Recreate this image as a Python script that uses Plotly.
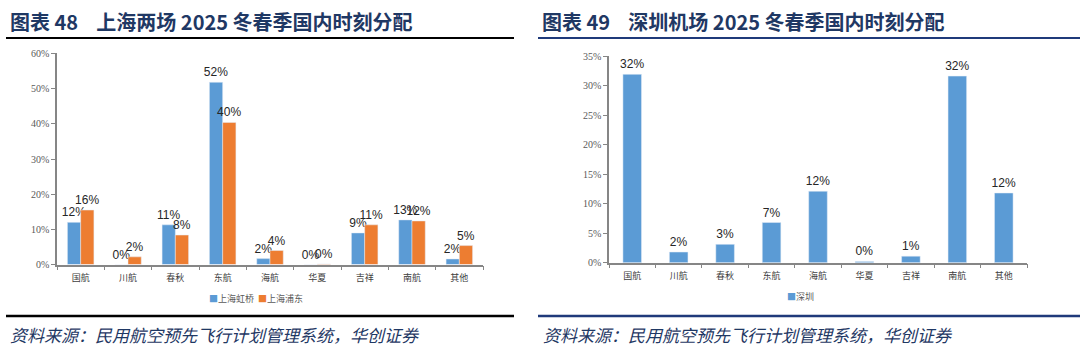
import plotly.graph_objects as go

categories = ["国航", "川航", "春秋", "东航", "海航", "华夏", "吉祥", "南航", "其他"]
hongqiao = [12.0, 0.0, 11.3, 51.8, 1.7, 0.0, 9.0, 12.7, 1.6]
pudong = [15.5, 2.2, 8.4, 40.4, 4.0, 0.2, 11.3, 12.4, 5.4]
shenzhen = [31.9, 1.8, 3.1, 6.8, 12.1, 0.2, 1.1, 31.6, 11.8]

left_series = ["上海虹桥", "上海浦东"]
right_series = ["深圳"]
left_title = "图表 48    上海两场 2025 冬春季国内时刻分配"
right_title = "图表 49    深圳机场 2025 冬春季国内时刻分配"
source_text = "资料来源：民用航空预先飞行计划管理系统，华创证券"

W, H = 1080, 351
BLUE = "#5B9BD5"
ORANGE = "#ED7D31"
NAVY = "#1F3864"
AXIS = "#868686"

def px(x):
    return x / W

def py(y):
    return (H - y) / H

label_font = dict(family="Liberation Sans, Arial, sans-serif", size=12, color="#262626")

fig = go.Figure()
fig.add_trace(go.Bar(x=categories, y=hongqiao, name=left_series[0], marker_color=BLUE,
                     texttemplate="%{y:.0f}%", textposition="outside", textfont=label_font,
                     constraintext="none", cliponaxis=False, xaxis="x", yaxis="y"))
fig.add_trace(go.Bar(x=categories, y=pudong, name=left_series[1], marker_color=ORANGE,
                     texttemplate="%{y:.0f}%", textposition="outside", textfont=label_font,
                     constraintext="none", cliponaxis=False, xaxis="x", yaxis="y"))
fig.add_trace(go.Bar(x=categories, y=shenzhen, name=right_series[0], marker_color=BLUE,
                     width=0.4, offset=-0.2,
                     texttemplate="%{y:.0f}%", textposition="outside", textfont=label_font,
                     constraintext="none", cliponaxis=False, xaxis="x2", yaxis="y2"))

tickfont_y = dict(family="Liberation Serif, Times New Roman, serif", size=10, color="#595959")
tickfont_x = dict(family="Noto Sans CJK SC, sans-serif", size=9, color="#404040")

common_x = dict(type="category", showline=True, linecolor=AXIS, linewidth=1.5,
                ticks="outside", tickson="boundaries", ticklen=4, tickcolor=AXIS,
                tickfont=tickfont_x, showgrid=False, fixedrange=True, ticklabelstandoff=4)
common_y = dict(showline=True, linecolor=AXIS, linewidth=1.5, ticks="outside", ticklen=4,
                tickcolor=AXIS, tickfont=tickfont_y, showgrid=False, zeroline=False,
                ticksuffix="%", fixedrange=True)

fig.update_layout(
    width=W, height=H,
    margin=dict(l=0, r=0, t=0, b=0),
    paper_bgcolor="white", plot_bgcolor="white",
    barmode="group", bargap=0.44, bargroupgap=0.0,
    xaxis=dict(domain=[px(57), px(483)], anchor="y", **common_x),
    yaxis=dict(domain=[py(268), py(50)], anchor="x", range=[0, 60], dtick=10, **common_y),
    xaxis2=dict(domain=[px(609), px(1027)], anchor="y2", **common_x),
    yaxis2=dict(domain=[py(266), py(52.7)], anchor="x2", range=[0, 35], dtick=5, **common_y),
    showlegend=False,
)

title_font = dict(family="Noto Sans CJK SC, sans-serif", size=20, color=NAVY, weight="bold")
src_font = dict(family="Noto Sans CJK SC, sans-serif", size=17, color=NAVY, style="italic")
legend_font = dict(family="Noto Sans CJK SC, sans-serif", size=9, color="#595959")

fig.add_annotation(text=left_title, x=px(8), y=py(17), xref="paper", yref="paper",
                   xanchor="left", yanchor="middle", showarrow=False, font=title_font)
fig.add_annotation(text=right_title, x=px(540), y=py(17), xref="paper", yref="paper",
                   xanchor="left", yanchor="middle", showarrow=False, font=title_font)
fig.add_annotation(text=source_text, x=px(8), y=py(340), xref="paper", yref="paper",
                   xanchor="left", yanchor="middle", showarrow=False, font=src_font)
fig.add_annotation(text=source_text, x=px(541), y=py(340), xref="paper", yref="paper",
                   xanchor="left", yanchor="middle", showarrow=False, font=src_font)

# compact legends (Excel style)
left_legend = (f"<span style='color:{BLUE}'>■</span>{left_series[0]}  "
               f"<span style='color:{ORANGE}'>■</span>{left_series[1]}")
right_legend = f"<span style='color:{BLUE}'>■</span>{right_series[0]}"
fig.add_annotation(text=left_legend, x=px(256), y=py(303), xref="paper", yref="paper",
                   xanchor="center", yanchor="middle", showarrow=False, font=legend_font)
fig.add_annotation(text=right_legend, x=px(800), y=py(301), xref="paper", yref="paper",
                   xanchor="center", yanchor="middle", showarrow=False, font=legend_font)

fig.add_shape(type="line", xref="paper", yref="paper", x0=px(6), x1=px(514), y0=py(34), y1=py(34),
              line=dict(color="black", width=2))
fig.add_shape(type="line", xref="paper", yref="paper", x0=px(538), x1=1, y0=py(34), y1=py(34),
              line=dict(color="#1F3A7A", width=2))
fig.add_shape(type="line", xref="paper", yref="paper", x0=px(6), x1=px(514), y0=py(321), y1=py(321),
              line=dict(color="black", width=2.5))
fig.add_shape(type="line", xref="paper", yref="paper", x0=px(538), x1=1, y0=py(321), y1=py(321),
              line=dict(color="#1F3A7A", width=2.5))

fig.write_html("out.html")
